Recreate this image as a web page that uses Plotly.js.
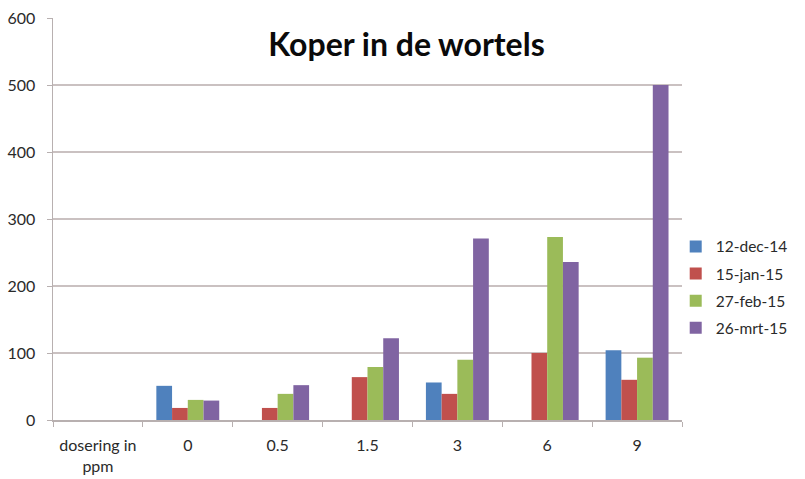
<!DOCTYPE html>
<html>
<head>
<meta charset="utf-8">
<script src="https://cdn.plot.ly/plotly-3.0.1.min.js"></script>
<style>html,body{margin:0;padding:0;background:#fff;}#chart{width:805px;height:479px;}</style>
</head>
<body>
<div id="chart"></div>
<script>
// Data
const categories = ["dosering in<br>ppm", "0", "0.5", "1.5", "3", "6", "9"];
const seriesNames = ["12-dec-14", "15-jan-15", "27-feb-15", "26-mrt-15"];
const dec14 = [null, 51, null, null, 56, null, 104];
const jan15 = [null, 18, 18, 64, 39, 100, 60];
const feb15 = [null, 30, 39, 79, 90, 273, 93];
const mrt15 = [null, 29, 52, 122, 271, 236, 500];
const yTicks = [0, 100, 200, 300, 400, 500, 600];

const colors = ["#4F81BD", "#C0504D", "#9BBB59", "#8064A2"];
const seriesValues = [dec14, jan15, feb15, mrt15];

const traces = seriesValues.map((vals, i) => ({
  type: "bar",
  name: seriesNames[i],
  x: categories,
  y: vals,
  marker: {color: colors[i], line: {width: 0}},
  legendgroup: "g" + i,
  hoverinfo: "x+y+name"
}));

const fontFam = "Lato, 'Open Sans', 'DejaVu Sans', sans-serif";
const txtCol = "#2a2a2a";

const layout = {
  width: 805,
  height: 479,
  paper_bgcolor: "#ffffff",
  plot_bgcolor: "#ffffff",
  margin: {l: 53, r: 123, t: 18, b: 59, pad: 0},
  barmode: "group",
  bargap: 0.3,
  bargroupgap: 0,
  font: {family: fontFam, size: 16, color: txtCol},
  title: {
    text: "<b>Koper in de wortels</b>",
    font: {family: fontFam, size: 32, color: "#0a0a0a"},
    x: 0.505, xanchor: "center",
    y: 0.907, yanchor: "middle"
  },
  xaxis: {
    type: "category",
    showgrid: false,
    showline: true,
    linecolor: "#b8b0b0",
    linewidth: 1.5,
    ticks: "outside",
    tickson: "boundaries",
    ticklen: 5,
    tickcolor: "#b8b0b0",
    ticklabelstandoff: 10,
    tickfont: {family: fontFam, size: 16, color: txtCol},
    fixedrange: true
  },
  yaxis: {
    range: [0, 600],
    tickvals: yTicks,
    showgrid: true,
    gridcolor: "#cac1c1",
    gridwidth: 1.5,
    zeroline: false,
    showline: true,
    linecolor: "#b8b0b0",
    linewidth: 1.5,
    ticks: "outside",
    ticklen: 5,
    tickcolor: "#b8b0b0",
    ticklabelstandoff: 8,
    tickfont: {family: fontFam, size: 16, color: txtCol},
    fixedrange: true
  },
  legend: {
    x: 0.99, xanchor: "left",
    y: 0.33, yanchor: "middle",
    traceorder: "grouped",
    tracegroupgap: 4,
    font: {family: fontFam, size: 15.5, color: txtCol},
    bgcolor: "rgba(0,0,0,0)"
  },
  showlegend: true
};

Plotly.newPlot("chart", traces, layout, {displayModeBar: false, staticPlot: true});
</script>
</body>
</html>
